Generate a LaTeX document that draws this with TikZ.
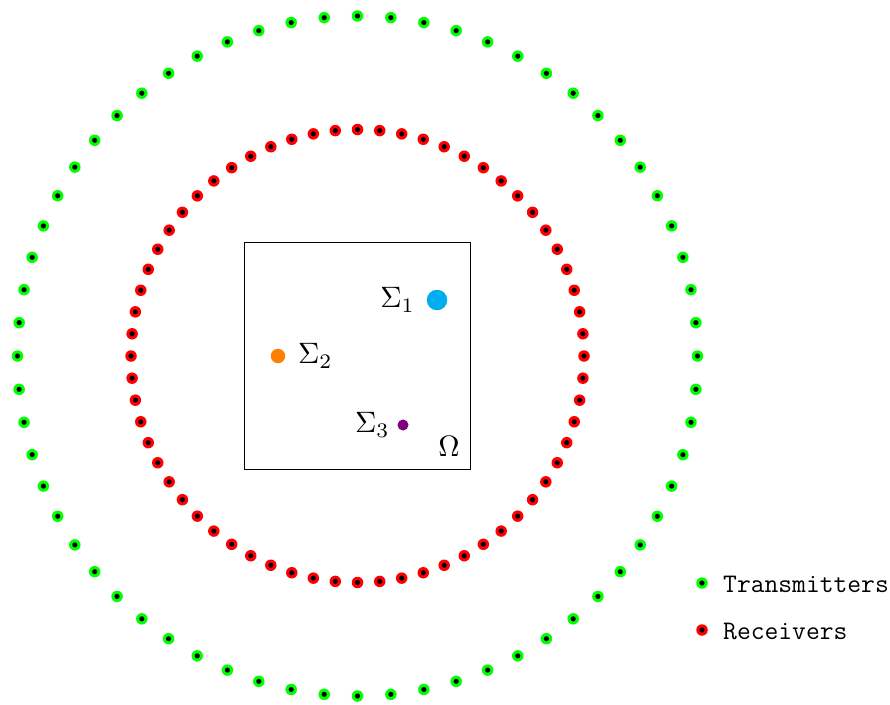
\documentclass[tikz,border=0pt]{standalone}
\usetikzlibrary{positioning,calc}
\definecolor{tgreen}{RGB}{0,255,0}
\definecolor{rred}{RGB}{255,0,0}
\definecolor{sblue}{RGB}{0,174,239}
\definecolor{sorange}{RGB}{255,128,0}
\definecolor{spurple}{RGB}{128,0,128}
\begin{document}
\begin{tikzpicture}[x=1pt,y=-1pt,
  antenna/.style={circle,inner sep=0pt,minimum size=11.5pt,fill=#1,
    path picture={\fill[black] (path picture bounding box.center) circle (2.6pt);}},
  scat/.style={circle,inner sep=0pt,minimum size=#1},
  mlabel/.style={inner sep=0pt,scale=2.95},
  legtext/.style={inner sep=0pt,font=\fontsize{26.8}{28}\selectfont\ttfamily}]
\useasboundingbox (0,0) rectangle (890,704);
\coordinate (c) at (357.5,356);
% domain
\node[draw=black,line width=1pt,minimum size=226.5pt,inner sep=0pt] (omega) at (c) {};
% transmitters and receivers
\foreach \i in {0,...,63}{
  \node[antenna=tgreen] (g\i) at ($(c)+({340*cos(\i*5.625)},{340*sin(\i*5.625)})$) {};
  \node[antenna=rred] (r\i) at ($(c)+({226.5*cos(\i*5.625)},{226.5*sin(\i*5.625)})$) {};
}
% scatterers
\node[scat=20.5pt,fill=sblue] (s1) at (437,300) {};
\node[scat=14.5pt,fill=sorange] (s2) at (278,356) {};
\node[scat=11pt,fill=spurple] (s3) at (403,425) {};
\node[mlabel,anchor=east] (l1) at ([xshift=-11pt]s1.west) {$\Sigma_1$};
\node[mlabel,anchor=west] (l2) at ([xshift=12pt]s2.east) {$\Sigma_2$};
\node[mlabel,anchor=east] (l3) at ([xshift=-7pt]s3.west) {$\Sigma_3$};
\node[mlabel] (lo) at (449,446) {$\Omega$};
% legend
\node[antenna=tgreen] (legT) at (702,583) {};
\node[antenna=rred] (legR) at (702,630) {};
\node[legtext,anchor=base west] (tT) at (723,592) {Transmitters};
\node[legtext,anchor=base west] (tR) at (723,639) {Receivers};
\end{tikzpicture}
\end{document}
